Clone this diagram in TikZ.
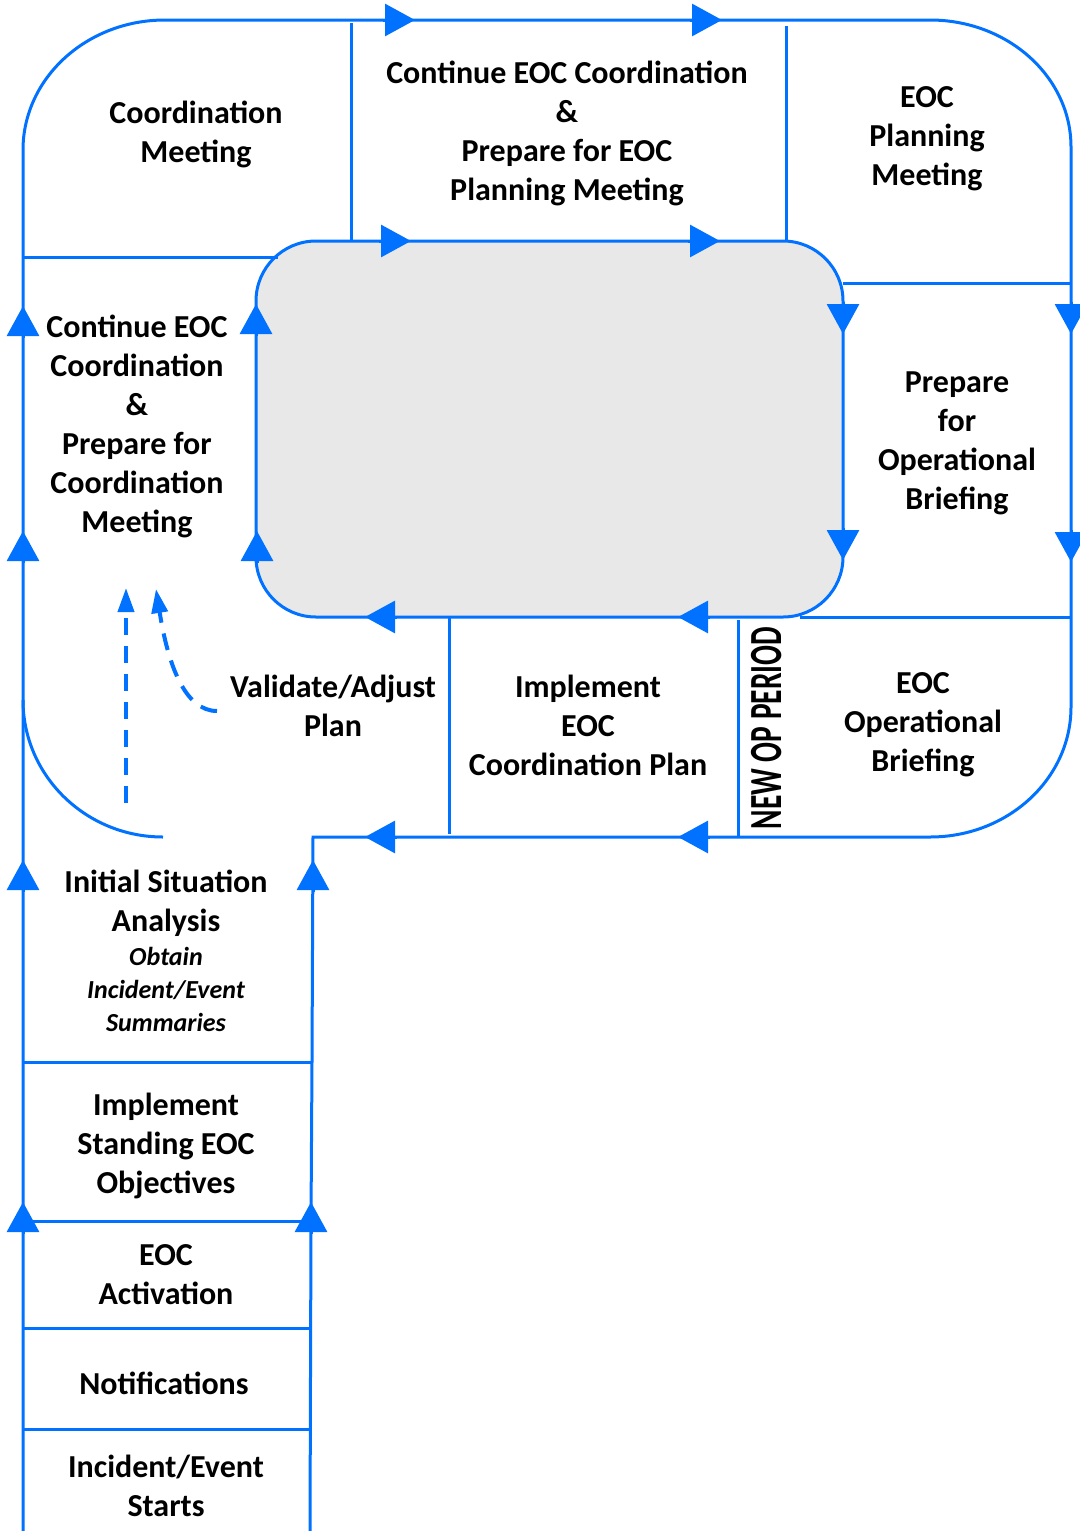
\documentclass[tikz,border=0pt]{standalone}
\usepackage{fontspec}
\setmainfont{Carlito}
\usetikzlibrary{arrows.meta}
\definecolor{eocblue}{RGB}{0,114,255}
\definecolor{coregray}{RGB}{232,232,232}
\tikzset{
  flow/.style={draw=eocblue, line width=1.5pt},
  tipline/.style={draw=eocblue, line width=1.5pt, -{Triangle[length=15pt,width=16pt]}},
  dashflow/.style={draw=eocblue, line width=2pt, dash pattern=on 8.5pt off 5.5pt, -{Triangle[length=12pt,width=8pt]}},
  lbl/.style={align=center, inner sep=0pt, font=\fontsize{16}{19.5}\selectfont\bfseries},
  sublbl/.style={align=center, inner sep=0pt, font=\fontsize{13}{16.5}\selectfont\bfseries\itshape},
}
\begin{document}
\begin{tikzpicture}[x=0.5pt, y=-0.5pt]
\useasboundingbox (0,0) rectangle (1080,1531);
% central rounded area
\path[fill=coregray, draw=eocblue, line width=1.5pt, rounded corners=30pt] (256,241) rectangle (843,617);
% outer outline
\draw[flow] (23,1531) -- (23,150) .. controls (23,78.2) and (86.6,20) .. (165,20)
  -- (930,20) .. controls (1007.9,20) and (1071,76.9) .. (1071,147)
  -- (1071,707) .. controls (1071,778.8) and (1007.9,837) .. (930,837)
  -- (313,837) -- (312,1062) -- (311,1221) -- (310,1531);
% lower-left arc
\draw[flow] (23,700) .. controls (23,775.7) and (85.7,837) .. (163,837);
% dividers
\draw[flow] (23,257) -- (278,257);
\draw[flow] (351,23) -- (351,241);
\draw[flow] (786,26) -- (786,241);
\draw[flow] (843,283) -- (1071,283);
\draw[flow] (800,617) -- (1071,617);
\draw[flow] (449,617) -- (449,834);
\draw[flow] (738,620) -- (738,836);
\draw[flow] (23,1062) -- (312,1062);
\draw[flow] (23,1221) -- (311,1221);
\draw[flow] (23,1328) -- (310,1328);
\draw[flow] (23,1429) -- (310,1429);
% arrow heads along the cycle
\coordinate (t1a) at (383,20);  \coordinate (t1b) at (415,20);
\coordinate (t2a) at (690,20);  \coordinate (t2b) at (722,20);
\coordinate (i1a) at (379,241); \coordinate (i1b) at (411,241);
\coordinate (i2a) at (688,241); \coordinate (i2b) at (720,241);
\coordinate (r1a) at (843,302); \coordinate (r1b) at (843,334);
\coordinate (r2a) at (843,528); \coordinate (r2b) at (843,560);
\coordinate (o1a) at (1071,302); \coordinate (o1b) at (1071,334);
\coordinate (o2a) at (1071,530); \coordinate (o2b) at (1071,562);
\coordinate (b1a) at (397,617); \coordinate (b1b) at (365,617);
\coordinate (b2a) at (710,617); \coordinate (b2b) at (678,617);
\coordinate (c1a) at (397,837); \coordinate (c1b) at (365,837);
\coordinate (c2a) at (710,837); \coordinate (c2b) at (678,837);
\coordinate (l1a) at (256,336); \coordinate (l1b) at (256,304);
\coordinate (l2a) at (257,563); \coordinate (l2b) at (257,531);
\coordinate (e1a) at (23,338); \coordinate (e1b) at (23,306);
\coordinate (e2a) at (23,563); \coordinate (e2b) at (23,531);
\coordinate (e3a) at (23,892); \coordinate (e3b) at (23,860);
\coordinate (e4a) at (23,1234); \coordinate (e4b) at (23,1202);
\coordinate (k1a) at (313,892); \coordinate (k1b) at (313,860);
\coordinate (k2a) at (311,1234); \coordinate (k2b) at (311,1202);
\foreach \p in {t1,t2,i1,i2,r1,r2,o1,o2,b1,b2,c1,c2,l1,l2,e1,e2,e3,e4,k1,k2}
  \draw[tipline] (\p a) -- (\p b);
% dashed feedback arrows
\coordinate (d1s) at (126,803); \coordinate (d1e) at (126,588);
\coordinate (d2s) at (217,711); \coordinate (d2e) at (156,589);
\draw[dashflow] (d1s) -- (d1e);
\draw[dashflow] (d2s) .. controls (185,711) and (168,665) .. (d2e);
% labels
\node[lbl] (coord) at (196,134) {Coordination\\Meeting};
\node[lbl] (contplan) at (567,133) {Continue EOC Coordination\\\&\\Prepare for EOC\\Planning Meeting};
\node[lbl] (planmtg) at (927,139) {EOC\\Planning\\Meeting};
\node[lbl] (contcoord) at (137,426) {Continue EOC\\Coordination\\\&\\Prepare for\\Coordination\\Meeting};
\node[lbl] (prepbrief) at (957,443) {Prepare\\for\\Operational\\Briefing};
\node[lbl] (validate) at (333,706) {Validate/Adjust\\Plan};
\node[lbl] (implplan) at (588,725) {Implement\\EOC\\Coordination Plan};
\node[lbl] (opbrief) at (923,725) {EOC\\Operational\\Briefing};
\node[rotate=90, inner sep=0pt, font=\fontsize{23}{23}\selectfont\bfseries] (newop) at (767,728) {\scalebox{0.64}[1]{NEW OP PERIOD}};
\node[lbl] (isa) at (166,903) {Initial Situation\\Analysis};
\node[sublbl] (obtain) at (166,989) {Obtain\\Incident/Event\\Summaries};
\node[lbl] (standing) at (166,1146) {Implement\\Standing EOC\\Objectives};
\node[lbl] (activation) at (166,1275) {EOC\\Activation};
\node[lbl] (notif) at (164,1383) {Notifications};
\node[lbl] (starts) at (166,1486) {Incident/Event\\Starts};
\end{tikzpicture}
\end{document}
